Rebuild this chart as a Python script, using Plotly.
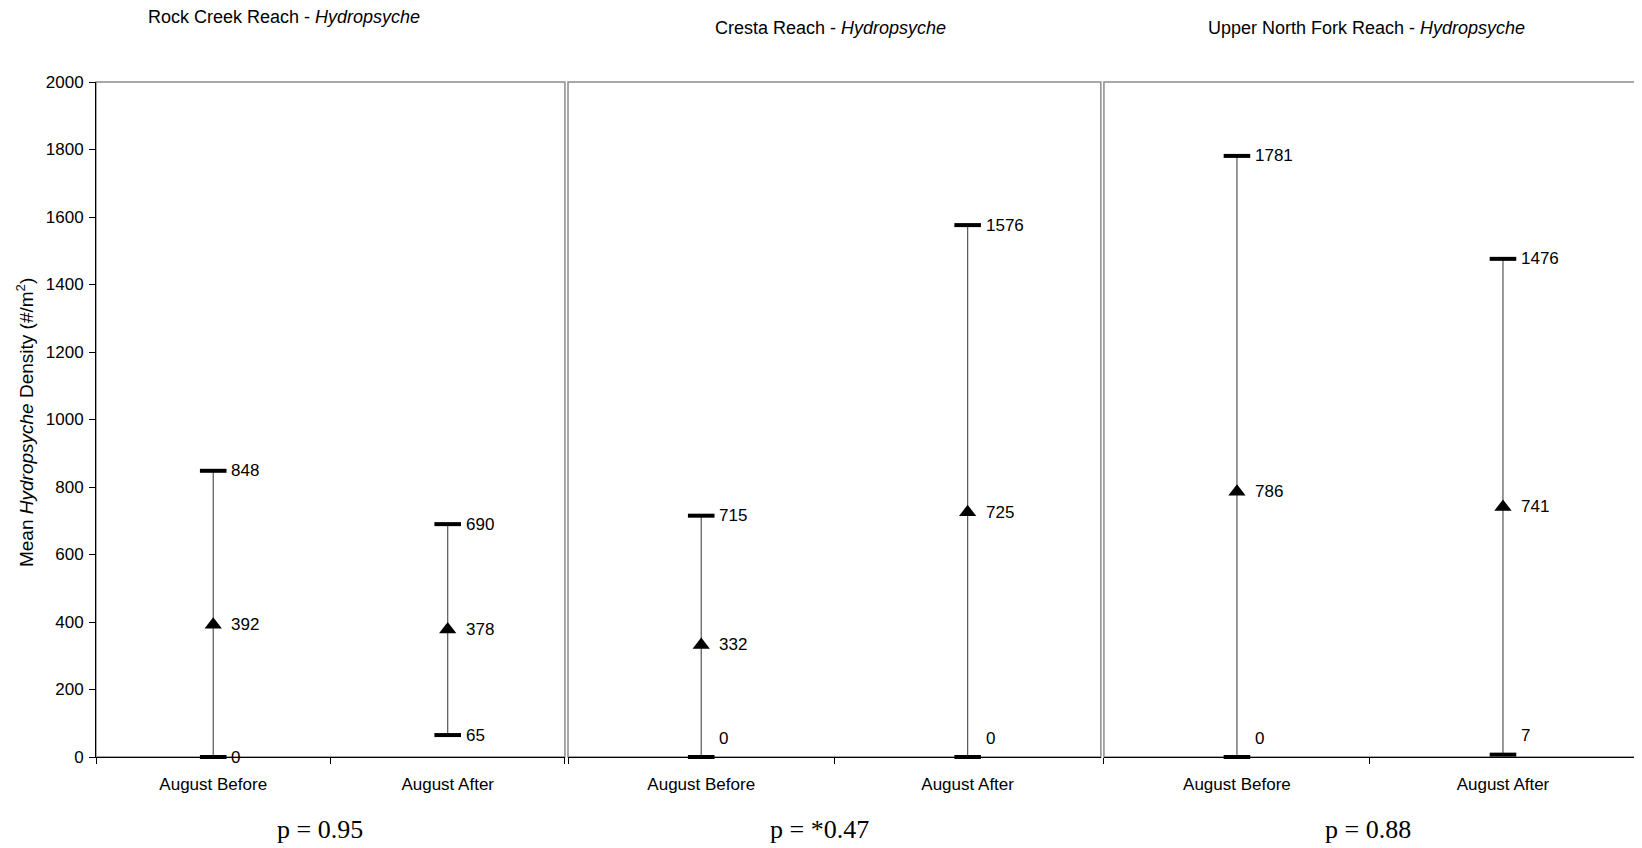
import plotly.graph_objects as go

reaches = ["Rock Creek Reach", "Cresta Reach", "Upper North Fork Reach"]
periods = ["August Before", "August After"]
means = [[392, 378], [332, 725], [786, 741]]
upper = [[848, 690], [715, 1576], [1781, 1476]]
lower = [[0, 65], [0, 0], [0, 7]]
p_values = ["p = 0.95", "p = *0.47", "p = 0.88"]
y_ticks = list(range(0, 2001, 200))

# styling / layout helpers
lower_label_shift = [[0, 0], [19, 19], [19, 19]]
domains = [[0.0, 0.3045], [0.3065, 0.6525], [0.6545, 1.0]]
title_x = [0.40, 0.4925, 0.494]
title_y = [1.0966, 1.0796, 1.0796]
p_x = [0.477, 0.472, 0.496]

FONT = "Liberation Sans, Arial, sans-serif"
fig = go.Figure()
ann = []
shapes = []

for i in range(3):
    sfx = "" if i == 0 else str(i + 1)
    xa, ya = "x" + sfx, "y" + sfx
    m, u, l = means[i], upper[i], lower[i]
    fig.add_trace(go.Scatter(
        x=periods, y=m, xaxis=xa, yaxis=ya, mode="markers",
        marker=dict(symbol="triangle-up", size=15, color="black"),
        error_y=dict(type="data", symmetric=False,
                     array=[u[k] - m[k] for k in range(2)],
                     arrayminus=[m[k] - l[k] for k in range(2)],
                     width=0, thickness=1.2, color="#555"),
        cliponaxis=False, showlegend=False, hoverinfo="skip"))
    fig.add_trace(go.Scatter(
        x=periods + periods, y=u + l, xaxis=xa, yaxis=ya, mode="markers",
        marker=dict(symbol="line-ew", size=19, color="black",
                    line=dict(width=4, color="black")),
        cliponaxis=False, showlegend=False, hoverinfo="skip"))
    for k in range(2):
        for val, ys in ((u[k], 0), (m[k], 0), (l[k], lower_label_shift[i][k])):
            ann.append(dict(x=periods[k], y=val, xref=xa, yref=ya, text=str(val),
                            xanchor="left", yanchor="middle", xshift=16, yshift=ys,
                            showarrow=False, font=dict(family=FONT, size=17, color="black")))
    ann.append(dict(x=title_x[i], y=title_y[i], xref=xa + " domain", yref="paper",
                    text=reaches[i] + " - <i>Hydropsyche</i>", showarrow=False,
                    xanchor="center", yanchor="middle",
                    font=dict(family=FONT, size=18, color="black")))
    ann.append(dict(x=p_x[i], y=-0.108, xref=xa + " domain", yref="paper",
                    text=p_values[i], showarrow=False, xanchor="center", yanchor="middle",
                    font=dict(family="Liberation Serif, Times New Roman, serif", size=26,
                              color="black")))
    shapes.append(dict(type="rect", xref=xa + " domain", yref=ya + " domain",
                       x0=0, x1=1, y0=0, y1=1, layer="below",
                       line=dict(color="#8c8c8c", width=1.5)))
    fig.update_layout(**{
        "xaxis" + sfx: dict(domain=domains[i], anchor=ya, type="category",
                             categoryorder="array", categoryarray=periods,
                             range=[-0.5, 1.5], tickson="boundaries",
                             ticks="outside", ticklen=6, tickcolor="black",
                             showline=True, linecolor="black", linewidth=1,
                             showgrid=False, zeroline=False, ticklabelstandoff=12,
                             tickfont=dict(family=FONT, size=17, color="black")),
        "yaxis" + sfx: dict(domain=[0, 1], anchor=xa, range=[0, 2000],
                             tickvals=y_ticks, showgrid=False, zeroline=False,
                             showticklabels=(i == 0),
                             ticks="outside" if i == 0 else "",
                             ticklen=6, tickcolor="black",
                             showline=(i == 0), linecolor="black", linewidth=1,
                             ticklabelstandoff=2,
                             tickfont=dict(family=FONT, size=17, color="black")),
    })

ann.append(dict(x=-0.046, y=0.495, xref="paper", yref="paper", textangle=-90,
                text="Mean <i>Hydropsyche</i> Density (#/m<sup>2</sup>)",
                showarrow=False, xanchor="center", yanchor="middle",
                font=dict(family=FONT, size=19, color="black")))

# the page body adds an 8px offset, so the paper is 8px smaller on each leading side
fig.update_layout(width=1634, height=840, margin=dict(l=88, r=6, t=74, b=91),
                  plot_bgcolor="white", paper_bgcolor="white",
                  annotations=ann, shapes=shapes)
fig.write_html("out.html")
